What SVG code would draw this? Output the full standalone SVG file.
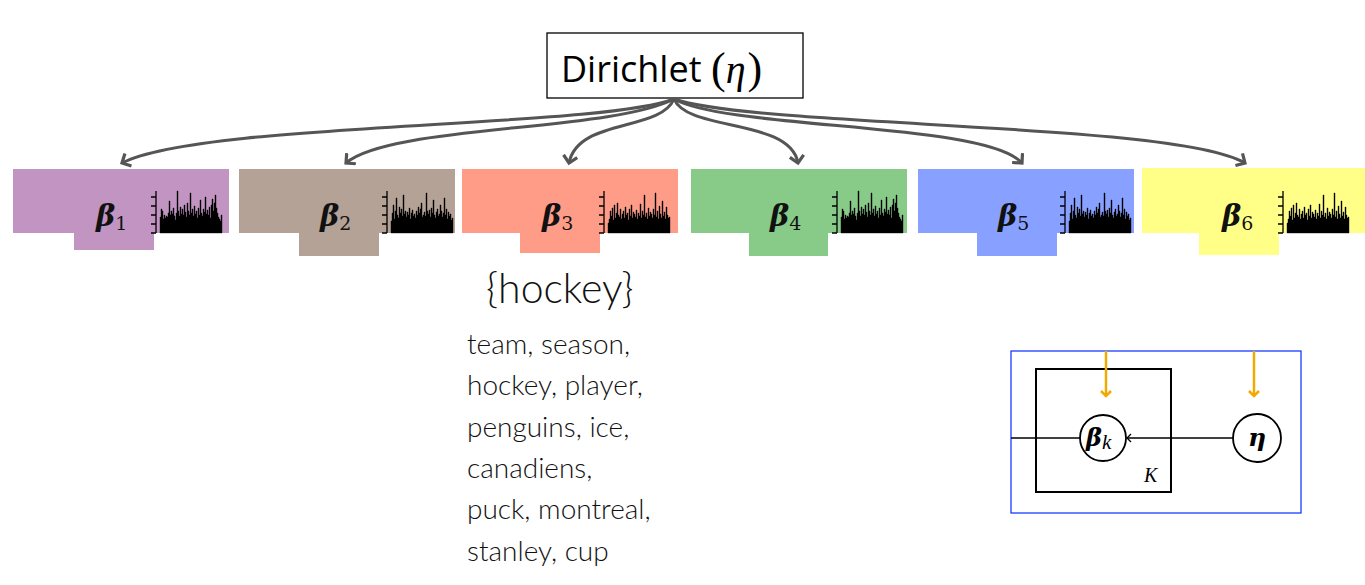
<svg xmlns="http://www.w3.org/2000/svg" width="1365" height="585" viewBox="0 0 1365 585">
<style>
.beta{font-family:"DejaVu Serif",serif;font-weight:bold;font-style:italic;font-size:29px;fill:#111}
.sub{font-family:"DejaVu Serif",serif;font-size:19px;font-style:normal;font-weight:normal;fill:#111}
.conn{fill:none;stroke:#555;stroke-width:3}
.axis{fill:none;stroke:#000;stroke-width:1.3}
.words{font-family:Lato,"Open Sans",sans-serif;font-weight:300;font-size:28px;fill:#111}
.orange{fill:none;stroke:#F2A900;stroke-width:2.5}
.pl{fill:none;stroke:#000;stroke-width:2}
</style>
<defs>
<marker id="ah" markerWidth="16" markerHeight="16" refX="8" refY="8" orient="auto" markerUnits="userSpaceOnUse">
<path d="M1,1 L8,8 L1,15" fill="none" stroke="#555" stroke-width="3.2"/>
</marker>
<marker id="oa" markerWidth="12" markerHeight="12" refX="6" refY="6" orient="auto" markerUnits="userSpaceOnUse">
<path d="M1,1 L6,6 L1,11" fill="none" stroke="#F2A900" stroke-width="2.5"/>
</marker>
<marker id="ka" markerWidth="10" markerHeight="10" refX="5" refY="5" orient="auto" markerUnits="userSpaceOnUse">
<path d="M1,1 L5,5 L1,9" fill="none" stroke="#000" stroke-width="1.3"/>
</marker>
<g id="hA">
<path class="axis" d="M0,0 V-42 M0,0 h-5 M0,-9 h-5 M0,-18 h-5 M0,-27 h-5 M0,-36 h-5"/>
<path fill="#000" stroke="#000" stroke-width="0.4" d="M4,0 V-16h1V-24h1V-22h1V-14h1V-18h1V-15h1V-17h1V-16h1V-20h1V-32h1V-18h1V-22h1V-19h1V-25h1V-17h1V-13h1V-20h1V-42h1V-22h1V-17h1V-26h1V-19h1V-24h1V-18h1V-28h1V-21h1V-16h1V-30h1V-22h1V-18h1V-40h1V-20h1V-24h1V-17h1V-27h1V-19h1V-22h1V-15h1V-25h1V-18h1V-33h1V-20h1V-17h1V-24h1V-21h1V-36h1V-19h1V-23h1V-18h1V-26h1V-15h1V-28h1V-34h1V-22h1V-30h1V-38h1V-25h1V-20h1V-16h1V-14h1V-12h1V-18h1V0Z"/>
</g>
<g id="hB">
<path class="axis" d="M0,0 V-42 M0,0 h-5 M0,-9 h-5 M0,-18 h-5 M0,-27 h-5 M0,-36 h-5"/>
<path fill="#000" stroke="#000" stroke-width="0.4" d="M4,0 V-12h1V-20h1V-28h1V-14h1V-22h1V-35h1V-18h1V-15h1V-26h1V-20h1V-24h1V-17h1V-38h1V-19h1V-22h1V-16h1V-21h1V-18h1V-25h1V-14h1V-20h1V-23h1V-17h1V-19h1V-15h1V-22h1V-18h1V-26h1V-20h1V-24h1V-30h1V-16h1V-18h1V-21h1V-17h1V-40h1V-22h1V-19h1V-23h1V-16h1V-25h1V-20h1V-33h1V-18h1V-15h1V-21h1V-24h1V-17h1V-19h1V-28h1V-22h1V-16h1V-20h1V-35h1V-18h1V-24h1V-14h1V-21h1V-17h1V-19h1V-13h1V-15h1V0Z"/>
</g>
<g id="hC">
<path class="axis" d="M0,0 V-42 M0,0 h-5 M0,-9 h-5 M0,-18 h-5 M0,-27 h-5 M0,-36 h-5"/>
<path fill="#000" stroke="#000" stroke-width="0.4" d="M4,0 V-10h1V-14h1V-22h1V-17h1V-25h1V-13h1V-28h1V-15h1V-20h1V-30h1V-18h1V-16h1V-24h1V-14h1V-19h1V-22h1V-15h1V-26h1V-18h1V-20h1V-13h1V-24h1V-17h1V-28h1V-15h1V-21h1V-19h1V-16h1V-23h1V-14h1V-20h1V-17h1V-29h1V-15h1V-22h1V-18h1V-38h1V-16h1V-20h1V-14h1V-25h1V-17h1V-21h1V-19h1V-15h1V-24h1V-18h1V-40h1V-16h1V-22h1V-14h1V-27h1V-19h1V-15h1V-32h1V-17h1V-21h1V-14h1V-26h1V-18h1V-15h1V-16h1V0Z"/>
</g>
</defs>
<rect width="1365" height="585" fill="#fff"/>

<g id="dirichlet">
<rect x="547" y="33" width="256" height="65" fill="#fff" stroke="#000" stroke-width="1.3"/>
<text x="561" y="82" font-family="Open Sans,sans-serif" font-size="36" fill="#000">Dirichlet</text>
<text x="711" y="83" font-family="Liberation Serif,serif" font-size="44" fill="#000">(<tspan font-style="italic" font-size="40">η</tspan><tspan dx="2">)</tspan></text>
</g>

<g id="topic1">
<rect x="13" y="169" width="216" height="64" fill="#C194C2"/>
<rect x="74" y="233" width="80" height="17" fill="#C194C2"/>
<text x="96" y="226" class="beta">β<tspan class="sub" dy="4">1</tspan></text>
<use href="#hA" x="156" y="233"/>
</g>
<g id="topic2">
<rect x="239" y="169" width="216" height="64" fill="#B4A296"/>
<rect x="299" y="233" width="80" height="23" fill="#B4A296"/>
<text x="320" y="226" class="beta">β<tspan class="sub" dy="4">2</tspan></text>
<use href="#hB" x="387" y="233"/>
</g>
<g id="topic3">
<rect x="462" y="169" width="216" height="64" fill="#FF9C88"/>
<rect x="520" y="233" width="80" height="20" fill="#FF9C88"/>
<text x="542" y="226" class="beta">β<tspan class="sub" dy="4">3</tspan></text>
<use href="#hC" x="604" y="233"/>
</g>
<g id="topic4">
<rect x="691" y="169" width="216" height="64" fill="#88CA88"/>
<rect x="749" y="233" width="79" height="23" fill="#88CA88"/>
<text x="770" y="226" class="beta">β<tspan class="sub" dy="4">4</tspan></text>
<use href="#hA" x="837" y="233"/>
</g>
<g id="topic5">
<rect x="918" y="169" width="216" height="64" fill="#88A0FF"/>
<rect x="977" y="233" width="80" height="23" fill="#88A0FF"/>
<text x="998" y="226" class="beta">β<tspan class="sub" dy="4">5</tspan></text>
<use href="#hB" x="1065" y="233"/>
</g>
<g id="topic6">
<rect x="1142" y="168" width="223" height="65" fill="#FFFF88"/>
<rect x="1199" y="233" width="80" height="22" fill="#FFFF88"/>
<text x="1222" y="226" class="beta">β<tspan class="sub" dy="4">6</tspan></text>
<use href="#hC" x="1283" y="233"/>
</g>

<g id="connectors">
<path class="conn" marker-end="url(#ah)" d="M674,99 C600,128 200,122 122,163"/>
<path class="conn" marker-end="url(#ah)" d="M674,99 C610,132 390,125 346,163"/>
<path class="conn" marker-end="url(#ah)" d="M674,99 C660,132 578,118 569,163"/>
<path class="conn" marker-end="url(#ah)" d="M674,99 C688,132 790,118 798,163"/>
<path class="conn" marker-end="url(#ah)" d="M674,99 C730,130 985,122 1022,163"/>
<path class="conn" marker-end="url(#ah)" d="M674,99 C760,128 1175,122 1245,163"/>
</g>

<g id="hockey">
<text x="486" y="303" font-family="Lato,sans-serif" font-weight="300" font-size="41" fill="#111">{hockey}</text>
<text class="words">
<tspan x="467" y="354">team, season,</tspan>
<tspan x="467" y="395">hockey, player,</tspan>
<tspan x="467" y="437">penguins, ice,</tspan>
<tspan x="467" y="478">canadiens,</tspan>
<tspan x="467" y="519">puck, montreal,</tspan>
<tspan x="467" y="561">stanley, cup</tspan>
</text>
</g>

<g id="plate-model">
<rect x="1011" y="351" width="290" height="162" fill="#fff" stroke="#1a3cff" stroke-width="1.3"/>
<rect x="1036" y="369" width="135" height="123" class="pl"/>
<path fill="none" stroke="#000" stroke-width="1.5" d="M1011,438 H1080"/>
<path fill="none" stroke="#000" stroke-width="1.5" marker-end="url(#ka)" d="M1233,438 H1127"/>
<circle cx="1103" cy="438" r="23" fill="#fff" stroke="#000" stroke-width="1.8"/>
<circle cx="1257" cy="438" r="24" fill="#fff" stroke="#000" stroke-width="1.8"/>
<text x="1086" y="446" font-family="DejaVu Serif,serif" font-weight="bold" font-style="italic" font-size="24" fill="#000">β<tspan dy="3" font-family="Liberation Serif,serif" font-style="italic" font-weight="normal" font-size="21">k</tspan></text>
<text x="1257" y="446" text-anchor="middle" font-family="DejaVu Serif,serif" font-weight="bold" font-style="italic" font-size="25" fill="#000">η</text>
<text x="1144" y="482" font-family="Liberation Serif,serif" font-style="italic" font-size="20" fill="#000">K</text>
<path class="orange" marker-end="url(#oa)" d="M1106,351 V396"/>
<path class="orange" marker-end="url(#oa)" d="M1254,351 V396"/>
</g>
</svg>
